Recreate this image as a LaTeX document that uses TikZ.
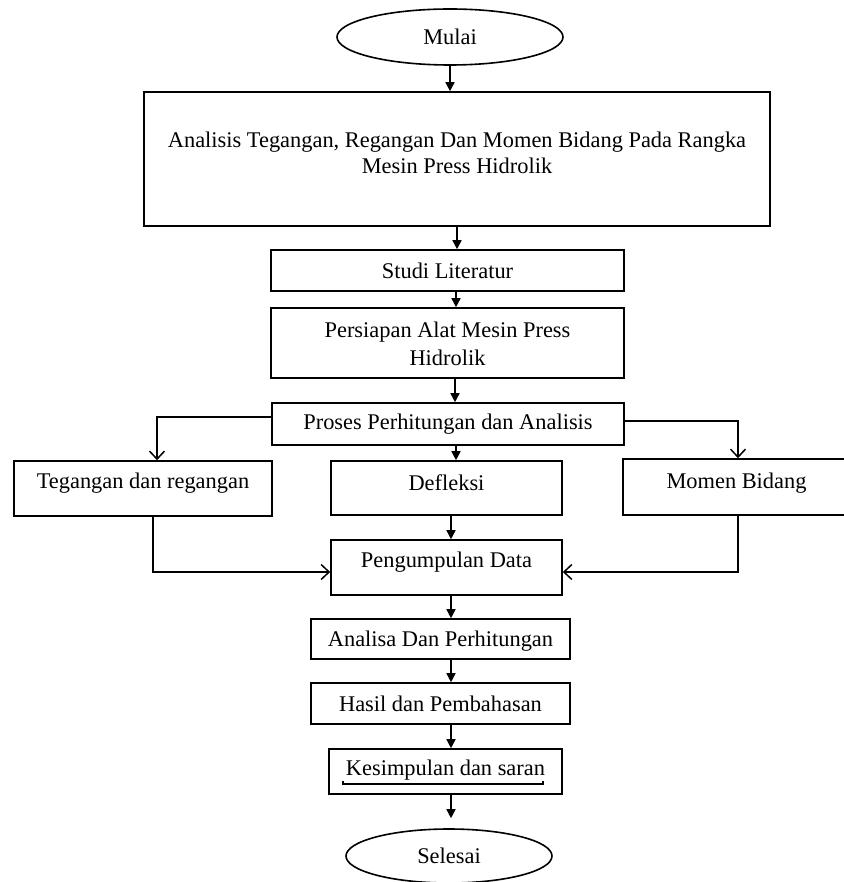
\documentclass[tikz,border=0pt]{standalone}
\usepackage{fontspec}
\setmainfont{Liberation Serif}
\usetikzlibrary{shapes.geometric,arrows.meta}
\tikzset{
  box/.style={draw, line width=1.6pt, rectangle, inner sep=0pt, font=\fontsize{22.4}{27}\selectfont},
  oval/.style={draw, line width=1.6pt, ellipse, inner sep=0pt, font=\fontsize{22.4}{27}\selectfont},
  lbl/.style={inner sep=0pt, align=center, font=\fontsize{22.4}{26}\selectfont},
  arr/.style={line width=1.5pt, -{Triangle[length=9pt,width=9pt]}},
  oarr/.style={line width=1.5pt, -{Straight Barb[length=8pt,width=15pt,line width=1.5pt]}},
}
\begin{document}
\begin{tikzpicture}[x=1pt,y=-1pt]
\useasboundingbox (0,0) rectangle (843,882);
\node[oval, minimum width=226, minimum height=56] (mulai) at (450,37) {Mulai};
\node[box, minimum width=626, minimum height=134] (big) at (457,159) {};
\node[lbl] (bigt) at (457,152.5) {Analisis Tegangan, Regangan Dan Momen Bidang Pada Rangka\\Mesin Press Hidrolik};
\node[box, minimum width=353, minimum height=41] (studi) at (447.5,270.5) {Studi Literatur};
\node[box, minimum width=353, minimum height=70] (pers) at (447.5,343) {};
\node[lbl, font=\fontsize{22.4}{28}\selectfont] (perst) at (447.5,344) {Persiapan Alat Mesin Press\\Hidrolik};
\node[box, minimum width=352, minimum height=42] (proses) at (448,424) {Proses Perhitungan dan Analisis};
\node[box, minimum width=258, minimum height=55] (teg) at (143,488.5) {};
\node[lbl] (tegt) at (143,483) {Tegangan dan regangan};
\node[box, minimum width=231, minimum height=54] (def) at (446.5,488) {};
\node[lbl] (deft) at (446.5,483) {Defleksi};
\node[box, minimum width=227, minimum height=56] (mom) at (736.5,487) {};
\node[lbl] (momt) at (736.5,483) {Momen Bidang};
\node[box, minimum width=231, minimum height=55] (peng) at (446.5,567.5) {};
\node[lbl] (pengt) at (446.5,562) {Pengumpulan Data};
\node[box, minimum width=259, minimum height=40] (anl) at (440.5,639) {};
\node[lbl] (anlt) at (440.5,641) {Analisa Dan Perhitungan};
\node[box, minimum width=259, minimum height=41] (hasil) at (440.5,703.5) {Hasil dan Pembahasan};
\node[box, minimum width=233, minimum height=45] (kes) at (445.5,771.5) {};
\node[lbl] (kest) at (445.5,770) {Kesimpulan dan saran};
\draw[line width=1.1pt] (343,781) -- (343,784) -- (543,784) -- (543,781);
\node[oval, minimum width=206, minimum height=54] (sel) at (449,856) {Selesai};

\draw[arr] (mulai.south) -- (mulai.south |- big.north);
\draw[arr] (big.south) -- (big.south |- studi.north);
\draw[arr] ([xshift=8.5pt]studi.south) -- ([xshift=8.5pt]pers.north);
\draw[arr] ([xshift=7.5pt]pers.south) -- ([xshift=7pt]proses.north);
\draw[arr] ([xshift=8pt]proses.south) -- ([xshift=9.5pt]def.north);
\draw[oarr] ([yshift=7pt]proses.west) -| ([xshift=14pt]teg.north);
\draw[oarr] ([yshift=3pt]proses.east) -| ([xshift=1.5pt]mom.north);
\draw[arr] ([xshift=4.5pt]def.south) -- ([xshift=4.5pt]peng.north);
\draw[oarr] ([xshift=10pt]teg.south) |- ([yshift=-4.5pt]peng.west);
\draw[oarr] ([xshift=1.5pt]mom.south) |- ([yshift=-4.5pt]peng.east);
\draw[arr] ([xshift=4.5pt]peng.south) -- ([xshift=10.5pt]anl.north);
\draw[arr] ([xshift=10.5pt]anl.south) -- ([xshift=10.5pt]hasil.north);
\draw[arr] ([xshift=10.5pt]hasil.south) -- ([xshift=5.5pt]kes.north);
\draw[arr, shorten >=10pt] ([xshift=5.5pt]kes.south) -- ([xshift=2pt]sel.north);
\end{tikzpicture}
\end{document}
